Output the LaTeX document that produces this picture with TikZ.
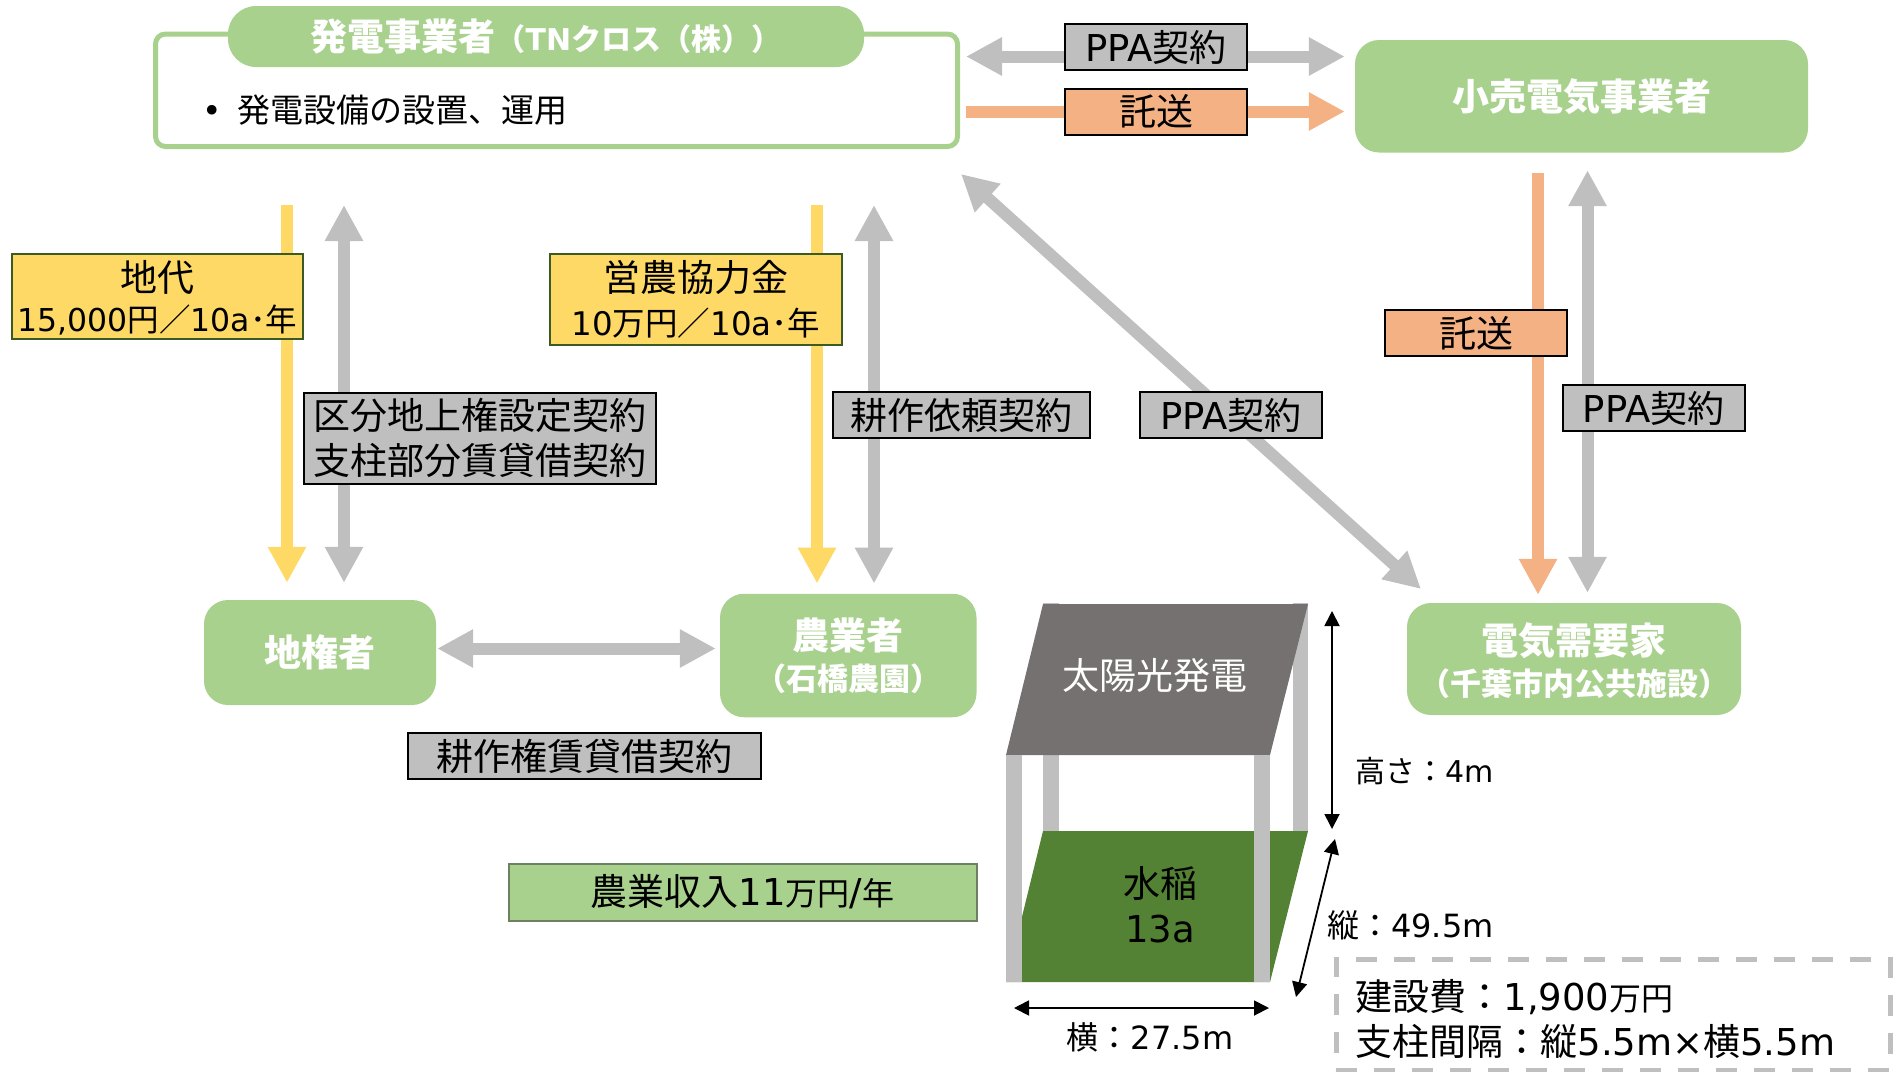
\documentclass[tikz,border=0pt]{standalone}
\usepackage{fontspec}
\usepackage{xcolor}
\usetikzlibrary{arrows.meta}
\setmainfont{Noto Sans CJK JP}
\newfontfamily\latfont{DejaVu Sans}
\definecolor{leafgreen}{RGB}{169,209,142}
\definecolor{fieldgreen}{RGB}{84,130,53}
\definecolor{sunyellow}{RGB}{255,217,102}
\definecolor{peach}{RGB}{244,177,131}
\definecolor{midgray}{RGB}{191,191,191}
\definecolor{roofgray}{RGB}{118,113,113}
\newcommand{\lat}[1]{{\latfont #1}}
\newcommand{\fs}[1]{\fontsize{#1}{45}\selectfont}
\tikzset{
  bigtip/.tip={Triangle[length=36pt,width=36pt]},
  thintip/.tip={Triangle[length=15pt,width=15pt]}}

\begin{document}
\begin{tikzpicture}[x=1pt, y=-1pt, line join=miter,
        partynode/.style={shape=rectangle, rounded corners=24pt, fill=leafgreen, text=white, inner sep=0pt, align=center, font=\fontsize{37}{41}\selectfont\bfseries},
        tagnode/.style={shape=rectangle, fill=midgray, draw=black, line width=2pt, inner sep=0pt, align=center, font=\fontsize{37}{45}\selectfont},
        peachnode/.style={tagnode, fill=peach},
        moneynode/.style={tagnode, fill=sunyellow, draw=fieldgreen!70!black},
        dimnode/.style={inner sep=0pt, font=\fontsize{32}{36}\selectfont},
        grayarrow/.style={draw=midgray, line width=12pt},
        peacharrow/.style={draw=peach, line width=12pt, -bigtip},
        yellowarrow/.style={draw=sunyellow, line width=12pt, -bigtip},
        dimarrow/.style={draw=black, line width=1.8pt, thintip-thintip}]
        \useasboundingbox (0,0) rectangle (1902,1071);
        % Parties
        \node[draw=leafgreen, fill=white, line width=5pt, rounded corners=10pt, minimum width=802pt, minimum height=112.5pt] (genbox) at (556.5,90.25) {};
        \node[partynode, rounded corners=28pt, minimum width=636pt, minimum height=61pt] (gentitle) at (546,36.5) {発電事業者{\fs{30}（\lat{TN}クロス（株））}};
        \node[inner sep=0pt, anchor=west, font=\fontsize{33}{36}\selectfont] (gentask) at (202,110) {\lat{•}\hspace{16pt}発電設備の設置、運用};
        \node[partynode, minimum width=453pt, minimum height=112.5pt] (retail) at (1581.5,96.25) {小売電気事業者};
        \node[partynode, minimum width=232pt, minimum height=105pt] (landowner) at (320,652.5) {地権者};
        \node[partynode, minimum width=256.5pt, minimum height=123.5pt] (farmer) at (848.25,655.5) {農業者\\{\fs{31}（石橋農園）}};
        \node[partynode, minimum width=334pt, minimum height=112pt] (consumer) at (1574,659) {\rule{0pt}{36pt}電気需要家\\{\fs{31}（千葉市内公共施設）}};
        % Arrows
        \draw[grayarrow, bigtip-bigtip, shorten <=6pt, shorten >=10pt] (genbox.east |- 0,56.5) -- (retail.west |- 0,56.5);
        \draw[peacharrow, shorten <=5.5pt, shorten >=10pt] (genbox.east |- 0,111.5) -- (retail.west |- 0,111.5);
        \draw[yellowarrow, shorten <=56pt, shorten >=17pt] (genbox.south -| 287,0) -- (landowner.north -| 287,0);
        \draw[grayarrow, bigtip-bigtip, shorten <=56pt, shorten >=17pt] (genbox.south -| 344,0) -- (landowner.north -| 344,0);
        \draw[yellowarrow, shorten <=56pt, shorten >=10pt] (genbox.south -| 817,0) -- (farmer.north -| 817,0);
        \draw[grayarrow, bigtip-bigtip, shorten <=56pt, shorten >=10pt] (genbox.south -| 874,0) -- (farmer.north -| 874,0);
        \draw[peacharrow, shorten <=20.5pt, shorten >=8pt] (retail.south -| 1538,0) -- (consumer.north -| 1538,0);
        \draw[grayarrow, bigtip-bigtip, shorten <=17.5pt, shorten >=10pt] (retail.south -| 1587.5,0) -- (consumer.north -| 1587.5,0);
        \draw[grayarrow, bigtip-bigtip, shorten <=1pt, shorten >=4pt] (landowner.east |- 0,648.5) -- (farmer.west |- 0,648.5);
        \coordinate (diagtop) at (961,174);
        \coordinate (diagbot) at (1421,589);
        \draw[grayarrow, bigtip-bigtip] (diagtop) -- (diagbot);
        % Contract tags
        \node[tagnode, minimum width=182pt, minimum height=46pt] (ppatop) at (1156,47) {\lat{PPA}契約};
        \node[peachnode, minimum width=182pt, minimum height=46pt] (wheeltop) at (1156,111.5) {託送};
        \node[moneynode, minimum width=291pt, minimum height=85pt, font=\fontsize{37}{40}\selectfont] (rent) at (157.5,296) {\rule{0pt}{35pt}地代\\{\fontsize{31.5}{40}\selectfont \lat{15,000}円／\lat{10a}･年}};
        \node[moneynode, minimum width=292pt, minimum height=91pt, font=\fontsize{37}{44}\selectfont] (fund) at (696,299) {営農協力金\\{\fontsize{32.5}{44}\selectfont \lat{10}万円／\lat{10a}･年}};
        \node[tagnode, minimum width=352pt, minimum height=91pt] (landdeal) at (480,438) {区分地上権設定契約\\支柱部分賃貸借契約};
        \node[tagnode, minimum width=257pt, minimum height=46pt] (farmdeal) at (961.5,415) {耕作依頼契約};
        \node[tagnode, minimum width=182pt, minimum height=46pt] (ppadiag) at (1231,415) {\lat{PPA}契約};
        \node[peachnode, minimum width=182pt, minimum height=46pt] (wheelright) at (1476,333) {託送};
        \node[tagnode, minimum width=182pt, minimum height=46pt] (ppaside) at (1653.5,408) {\lat{PPA}契約};
        \node[tagnode, minimum width=353pt, minimum height=46pt] (tilldeal) at (584,756) {耕作権賃貸借契約};
        \node[tagnode, fill=leafgreen, draw=fieldgreen!40!gray, minimum width=468pt, minimum height=57pt] (income) at (742.5,892) {農業収入\lat{11}{\fs{32}万円}\lat{/}{\fs{32}年}};
        % Solar sharing frame
        \fill[fieldgreen] (1043,831) -- (1308,831) -- (1270,982) -- (1006,982) -- cycle;
        \foreach \x/\w in {1043/16, 1293/15} {
          \fill[midgray] (\x,603) rectangle (\x+\w,831);
        }
        \fill[roofgray] (1043,604) -- (1308,604) -- (1270,755) -- (1006,755) -- cycle;
        \foreach \x in {1006, 1254} {
          \fill[midgray] (\x,755) rectangle (\x+16,982);
        }
        \node[inner sep=0pt, text=white, font=\fontsize{37}{41}\selectfont] (roof) at (1155,676) {太陽光発電};
        \node[inner sep=0pt, align=center, font=\fontsize{37}{45}\selectfont] (paddy) at (1160,904.5) {水稲\\\lat{13a}};
        % Dimensions
        \coordinate (heighttop) at (1332,611);
        \coordinate (heightbot) at (1332,829);
        \coordinate (depthtop) at (1335,839);
        \coordinate (depthbot) at (1296,997);
        \coordinate (widthleft) at (1014,1008);
        \coordinate (widthright) at (1269,1008);
        \draw[dimarrow] (heighttop) -- (heightbot);
        \draw[dimarrow] (depthtop) -- (depthbot);
        \draw[dimarrow] (widthleft) -- (widthright);
        \node[dimnode, anchor=west, font=\fontsize{30}{36}\selectfont] (heightlabel) at (1355,771) {高さ：\lat{4m}};
        \node[dimnode, anchor=west] (depthlabel) at (1327,925) {縦：\lat{49.5m}};
        \node[dimnode] (widthlabel) at (1150,1037) {横：\lat{27.5m}};
        % Cost note
        \node[draw=midgray, line width=5pt, dash pattern=on 21pt off 17pt, inner sep=0pt, minimum width=554pt, minimum height=111pt, text width=515pt, align=left, font=\fontsize{37}{45}\selectfont] (cost) at (1613,1014.5) {\rule{0pt}{40pt}建設費：\lat{1,900}{\fs{32}万円}\\支柱間隔：縦\lat{5.5m×}横\lat{5.5m}};
\end{tikzpicture}
\end{document}
